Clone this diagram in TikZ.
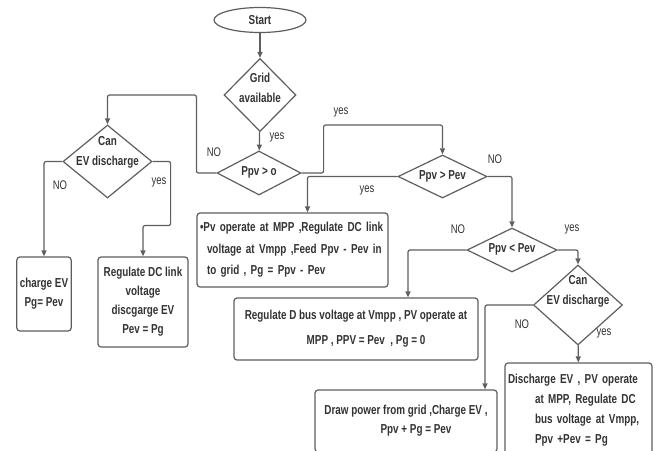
\documentclass[tikz,border=0pt]{standalone}
\usepackage{fontspec}
\setmainfont{Liberation Sans}[FakeStretch=0.76]
\usetikzlibrary{shapes.geometric,arrows.meta}

\definecolor{linegray}{HTML}{5E5E5E}
\definecolor{txtgray}{HTML}{333333}

\tikzset{
  flow/.style={draw=linegray, line width=1.2pt, rounded corners=2pt,
    -{Triangle[length=6pt,width=5pt]}},
  terminal/.style={ellipse, draw=linegray, line width=1.2pt, minimum width=92,
    minimum height=25, inner sep=0pt, font=\bfseries\fontsize{13}{13}\selectfont, text=txtgray},
  decision/.style={diamond, draw=linegray, line width=1.2pt, inner sep=0pt},
  dtext/.style={align=center, font=\bfseries\fontsize{13}{20}\selectfont, text=txtgray},
  procbox/.style={rectangle, draw=linegray, line width=1.2pt, rounded corners=3pt,
    inner sep=3pt, font=\bfseries\fontsize{13}{19}\selectfont, text=txtgray},
  answer/.style={font=\fontsize{12.5}{13}\selectfont, text=txtgray}
}

\begin{document}
\begin{tikzpicture}[x=1pt, y=-1pt]
\useasboundingbox (0,0) rectangle (658,450);
\clip (0,0) rectangle (658,450);

% decisions
\node [terminal] (start) at (260,20) {Start};
\node [decision, minimum width=72, minimum height=73] (grid) at (260,95) {};
\node [dtext] (gridtxt) at (260,88) {Grid\\available};
\node [decision, minimum width=84, minimum height=44] (ppvo) at (259,173) {};
\node [dtext] (ppvotxt) at (259,172) {Ppv > o};
\node [decision, minimum width=89, minimum height=73] (canl) at (107.5,161.5) {};
\node [dtext] (canltxt) at (107.5,152) {Can\\EV discharge};
\node [decision, minimum width=89, minimum height=43] (pgt) at (442.5,176.5) {};
\node [dtext] (pgttxt) at (442.5,176) {Ppv > Pev};
\node [decision, minimum width=90, minimum height=44] (plt) at (512,250) {};
\node [dtext] (plttxt) at (512,249) {Ppv < Pev};
\node [decision, minimum width=89, minimum height=80] (canr) at (578,305) {};
\node [dtext] (canrtxt) at (578,291) {Can\\EV discharge};

% actions
\node [procbox, minimum width=54, minimum height=74, align=center] (chg) at (44,294) {charge EV\\Pg= Pev};
\node [procbox, minimum width=90, minimum height=90, align=center] (regl) at (143,302)
  {Regulate DC link\\voltage\\discgarge EV\\Pev = Pg};
\node [procbox, text width=185, minimum height=74, align=left, font=\bfseries\fontsize{13}{21.5}\selectfont] (pvbox) at (292.5,250)
  {\textbullet Pv operate at MPP ,Regulate DC link\\\hspace*{7pt}voltage at Vmpp ,Feed Ppv - Pev in\\\hspace*{7pt}to grid , Pg = Ppv - Pev};
\node [procbox, minimum width=244, minimum height=62, align=center, font=\bfseries\fontsize{13}{25}\selectfont] (dbus) at (356,329)
  {Regulate D bus voltage at Vmpp , PV operate at\\\hspace*{20pt}MPP , PPV = Pev \ , Pg = 0};
\node [procbox, minimum width=182, minimum height=62, align=center] (drawbox) at (406,421)
  {Draw power from grid ,Charge EV ,\\\hspace*{20pt}Ppv + Pg = Pev};
\node [procbox, text width=141, minimum height=94, align=left, font=\bfseries\fontsize{13}{20}\selectfont] (disbox) at (578.5,410)
  {Discharge EV , PV operate\\\hspace*{27pt}at MPP, Regulate DC\\\hspace*{27pt}bus voltage at Vmpp,\\\hspace*{27pt}Ppv +Pev = Pg};

% connectors
\draw [flow] (start) -- (grid);
\draw [flow] (grid) -- (ppvo);
\draw [flow] (ppvo.west) -- ++(-20,0) -- ++(0,-78) -| (canl.north);
\draw [flow] (canl.west) -| (chg.north);
\draw [flow] (canl.east) -- ++(18,0) -- ++(0,64) -| (regl.north);
\draw [flow] (ppvo.east) -- ++(22,0) -- ++(0,-48) -| (pgt.north);
\draw [flow] (pgt.west) -| ([xshift=15]pvbox.north);
\draw [flow] (pgt.east) -| (plt.north);
\draw [flow] (plt.west) -| ([xshift=52]dbus.north);
\draw [flow] (plt.east) -| (canr.north);
\draw [flow] (canr.west) -| ([xshift=79]drawbox.north);
\draw [flow] (canr) -- (disbox);

% yes / NO
\node [answer] (a1) at (277,137) {yes};
\node [answer] (a2) at (214,152) {NO};
\node [answer] (a3) at (341,112) {yes};
\node [answer] (a4) at (60,185) {NO};
\node [answer] (a5) at (159,182) {yes};
\node [answer] (a6) at (367,190) {yes};
\node [answer] (a7) at (495,159) {NO};
\node [answer] (a8) at (458,229) {NO};
\node [answer] (a9) at (572,229) {yes};
\node [answer] (a10) at (522,324) {NO};
\node [answer] (a11) at (604,333) {yes};
\end{tikzpicture}
\end{document}
